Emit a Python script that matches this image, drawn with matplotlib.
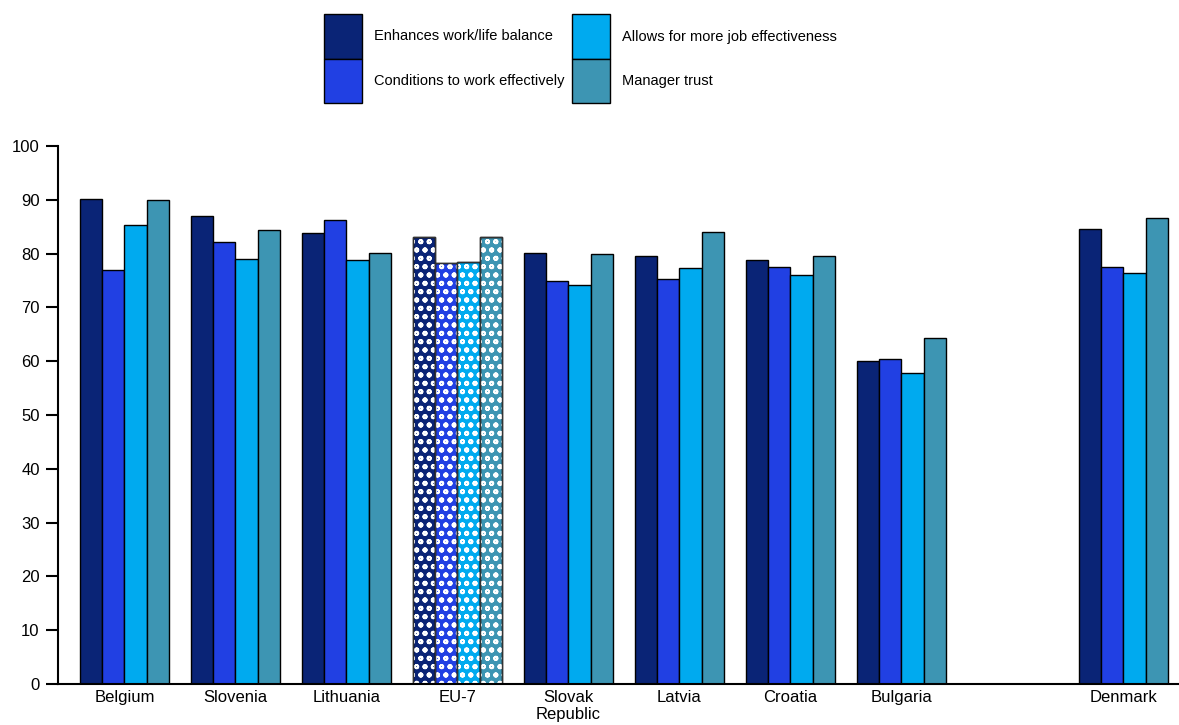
import matplotlib.pyplot as plt
import numpy as np
from matplotlib.patches import Rectangle

plt.rcParams['font.family'] = ['Liberation Sans', 'DejaVu Sans']
plt.rcParams['hatch.linewidth'] = 1.3

# data
countries = ["Belgium", "Slovenia", "Lithuania", "EU-7", "Slovak\nRepublic",
             "Latvia", "Croatia", "Bulgaria", "Denmark"]
series = ["Enhances work/life balance", "Conditions to work effectively",
          "Allows for more job effectiveness", "Manager trust"]
work_life = [90.1, 87.0, 83.8, 83.0, 80.1, 79.6, 78.9, 60.0, 84.5]
conditions = [76.9, 82.1, 86.2, 78.2, 75.0, 75.2, 77.6, 60.5, 77.6]
job_eff = [85.3, 79.0, 78.9, 78.4, 74.2, 77.4, 76.1, 57.8, 76.4]
manager = [90.0, 84.3, 80.1, 83.0, 80.0, 84.0, 79.5, 64.3, 86.6]
values = [work_life, conditions, job_eff, manager]
colors = ["#0a2476", "#2140e3", "#00aaef", "#3d95b3"]

# one empty slot before Denmark
pos = np.array([0, 1, 2, 3, 4, 5, 6, 7, 9])
width = 0.2

fig = plt.figure(figsize=(11.79, 7.25), dpi=100)
ax = fig.add_axes([0.049, 0.0566, 0.951, 0.742])

k = countries.index("EU-7")
for i, vals in enumerate(values):
    x = pos + (i - 1.5) * width
    ax.bar(x, vals, width, color=colors[i], edgecolor="black", linewidth=1.0)
    # dotted pattern on the EU-7 group
    ax.bar(x[k], vals[k], width, fill=False, hatch="oo", edgecolor="white", linewidth=0)
    ax.bar(x[k], vals[k], width, fill=False, edgecolor="#333333", linewidth=1.0)

ax.set_xlim(-0.6, 9.5)
ax.set_ylim(0, 100)
ax.set_yticks(np.arange(0, 101, 10))
ax.set_xticks(pos)
ax.set_xticklabels(countries, fontsize=12, linespacing=1.2)
ax.tick_params(axis="x", length=0, pad=4)
ax.tick_params(axis="y", labelsize=12, length=9, width=1.5, direction="out", pad=4)
for s in ["top", "right"]:
    ax.spines[s].set_visible(False)
for s in ["left", "bottom"]:
    ax.spines[s].set_linewidth(1.5)

# legend, 2 x 2 with stacked colour boxes
W, H = 1179, 725
box_x = [324, 572]
text_x = [374, 622]
rows = [(14, 59), (59, 103)]
for j, name in enumerate(series):
    col = j // 2
    row = j % 2
    y0, y1 = rows[row]
    fig.add_artist(Rectangle((box_x[col] / W, 1 - y1 / H), 38 / W, (y1 - y0) / H,
                             transform=fig.transFigure, facecolor=colors[j],
                             edgecolor="black", linewidth=1.0))
    fig.text(text_x[col] / W, 1 - (y0 + y1) / 2 / H, name, fontsize=10.5,
             va="center", ha="left")

fig.savefig("out.png", dpi=100)
